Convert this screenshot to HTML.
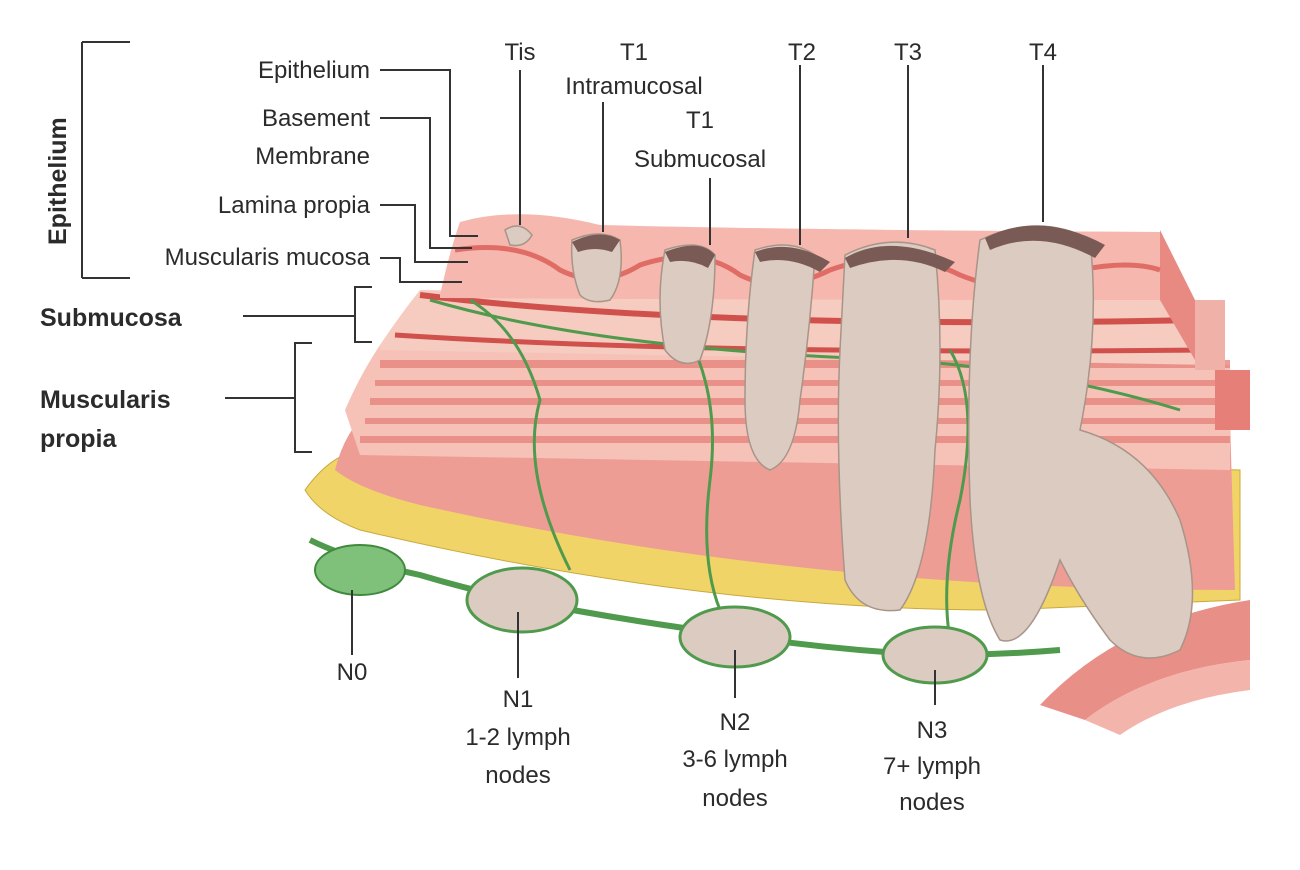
<!DOCTYPE html>
<html><head><meta charset="utf-8"><style>
html,body{margin:0;padding:0;background:#fff;}
svg{display:block}
text{font-family:"Liberation Sans",sans-serif;fill:#2b2b2b;}
</style></head><body>
<svg width="1300" height="870" viewBox="0 0 1300 870" xmlns="http://www.w3.org/2000/svg">
<rect width="1300" height="870" fill="#fff"/>
<!-- blood vessel bottom right -->
<path d="M1040 705 Q1120 620 1250 600 L1250 660 Q1150 670 1085 720 Z" fill="#e88f88"/>
<path d="M1085 720 Q1150 670 1250 660 L1250 690 Q1170 700 1120 735 Z" fill="#f3b4ac"/>
<!-- yellow fat -->
<path d="M305 490 Q330 455 360 450 L1240 470 L1240 600 L1000 610 Q700 610 360 530 Q320 515 305 490 Z" fill="#f0d468" stroke="#c9a93a" stroke-width="1"/>
<!-- outer muscle -->
<path d="M335 470 Q345 430 370 410 L1230 420 L1235 590 Q800 590 420 505 Q360 490 335 470 Z" fill="#ee9d95"/>
<!-- muscularis inner textured -->
<path d="M345 410 Q360 375 380 345 L1230 365 L1230 470 L360 455 Z" fill="#f6c2b8"/>
<g fill="#e6857e" opacity="0.8">
<rect x="380" y="360" width="850" height="8"/>
<rect x="375" y="380" width="855" height="6"/>
<rect x="370" y="398" width="860" height="7"/>
<rect x="365" y="418" width="865" height="6"/>
<rect x="360" y="436" width="870" height="7"/>
</g>
<!-- submucosa -->
<path d="M380 345 Q400 315 420 290 L1200 300 L1215 365 L380 350 Z" fill="#f6cbc0"/>
<path d="M420 295 Q700 330 1200 320" stroke="#d0504c" stroke-width="6" fill="none"/>
<path d="M395 335 Q700 355 1210 350" stroke="#d0504c" stroke-width="5" fill="none"/>
<!-- right block faces -->
<path d="M1160 230 L1195 300 L1195 360 L1160 300 Z" fill="#e88a82"/>
<path d="M1195 300 L1225 300 L1225 370 L1195 370 Z" fill="#f0b1a8"/>
<path d="M1215 370 L1250 370 L1250 430 L1215 430 Z" fill="#e57f78"/>
<!-- mucosa -->
<path d="M440 295 Q450 250 460 222 Q520 205 600 225 Q800 230 1160 232 L1160 300 Q800 300 440 298 Z" fill="#f5b7ae"/>
<path d="M455 250 Q520 240 560 270 Q600 290 640 265 Q700 245 740 275 Q780 295 830 270 Q900 245 960 275 Q1020 300 1080 270 Q1130 260 1160 270" stroke="#e06c66" stroke-width="5" fill="none"/>
<!-- green lymphatics -->
<g stroke="#4f9a4c" stroke-width="3" fill="none">
<path d="M470 300 Q520 330 540 400 Q520 470 570 570"/>
<path d="M690 340 Q720 400 710 480 Q700 560 720 610"/>
<path d="M950 350 Q980 400 960 500 Q940 580 950 640"/>
<path d="M430 300 Q600 350 900 360 Q1050 370 1180 410"/>
<path d="M310 540 Q350 560 420 575 Q470 590 520 600 Q620 620 735 635 Q830 650 935 655 Q1000 655 1060 650" stroke-width="6"/>
</g>
<!-- tumors -->
<g fill="#dccbc0" stroke="#a89488" stroke-width="1.5">
<path d="M505 230 Q520 220 532 235 Q525 248 510 245 Z"/>
<path d="M572 240 Q600 228 620 240 Q625 280 610 300 Q590 305 580 295 Q570 270 572 240 Z"/>
<path d="M665 250 Q700 238 715 255 Q715 320 700 360 Q680 370 665 350 Q655 300 665 250 Z"/>
<path d="M755 250 Q790 238 815 255 Q810 330 800 400 Q795 460 770 470 Q745 460 745 400 Q745 320 755 250 Z"/>
<path d="M845 255 Q890 232 935 250 Q945 350 935 450 Q930 570 900 610 Q860 615 845 580 Q835 450 840 350 Z"/>
<path d="M980 240 Q1040 212 1090 240 Q1100 330 1080 430 Q1150 450 1180 520 Q1205 600 1180 650 Q1140 670 1110 640 Q1080 600 1060 560 Q1030 650 1000 640 Q975 600 970 500 Q965 350 980 240 Z"/>
</g>
<g fill="#7a5a55">
<path d="M572 242 Q600 228 620 240 L612 252 Q595 246 578 252 Z"/>
<path d="M665 252 Q700 238 715 255 L708 268 Q690 258 670 262 Z"/>
<path d="M755 252 Q790 238 830 262 L820 272 Q790 255 760 262 Z"/>
<path d="M845 258 Q890 232 955 262 L945 272 Q900 250 850 268 Z"/>
<path d="M985 238 Q1040 210 1105 245 L1095 258 Q1040 228 990 250 Z"/>
</g>
<!-- lymph nodes -->
<ellipse cx="360" cy="570" rx="45" ry="25" fill="#7fc07a" stroke="#3f8a3c" stroke-width="2"/>
<ellipse cx="522" cy="600" rx="55" ry="32" fill="#dccbc0" stroke="#4f9a4c" stroke-width="3"/>
<ellipse cx="735" cy="637" rx="55" ry="30" fill="#dccbc0" stroke="#4f9a4c" stroke-width="3"/>
<ellipse cx="935" cy="655" rx="52" ry="28" fill="#dccbc0" stroke="#4f9a4c" stroke-width="3"/>
<!-- leader lines -->
<g stroke="#333" stroke-width="2" fill="none">
<path d="M82 42 L82 278 M82 42 L130 42 M82 278 L130 278"/>
<path d="M380 70 L450 70 L450 236 L478 236"/>
<path d="M380 118 L430 118 L430 248 L472 248"/>
<path d="M380 205 L415 205 L415 262 L468 262"/>
<path d="M380 258 L400 258 L400 282 L462 282"/>
<path d="M243 316 L355 316 M372 287 L355 287 L355 342 L372 342"/>
<path d="M225 398 L295 398 M312 343 L295 343 L295 452 L312 452"/>
<path d="M520 70 L520 225"/><path d="M603 102 L603 232"/><path d="M710 178 L710 245"/>
<path d="M800 65 L800 245"/><path d="M908 65 L908 238"/><path d="M1043 65 L1043 222"/>
<path d="M352 590 L352 655"/><path d="M518 612 L518 678"/><path d="M735 650 L735 698"/><path d="M935 670 L935 705"/>
</g>
<!-- labels -->
<g font-size="24">
<text x="370" y="78" text-anchor="end">Epithelium</text>
<text x="370" y="126" text-anchor="end">Basement</text>
<text x="370" y="164" text-anchor="end">Membrane</text>
<text x="370" y="213" text-anchor="end">Lamina propia</text>
<text x="370" y="265" text-anchor="end">Muscularis mucosa</text>
<text x="520" y="60" text-anchor="middle">Tis</text>
<text x="634" y="60" text-anchor="middle">T1</text>
<text x="634" y="94" text-anchor="middle">Intramucosal</text>
<text x="700" y="128" text-anchor="middle">T1</text>
<text x="700" y="167" text-anchor="middle">Submucosal</text>
<text x="802" y="60" text-anchor="middle">T2</text>
<text x="908" y="60" text-anchor="middle">T3</text>
<text x="1043" y="60" text-anchor="middle">T4</text>
<text x="352" y="680" text-anchor="middle">N0</text>
<text x="518" y="707" text-anchor="middle">N1</text>
<text x="518" y="745" text-anchor="middle">1-2 lymph</text>
<text x="518" y="783" text-anchor="middle">nodes</text>
<text x="735" y="730" text-anchor="middle">N2</text>
<text x="735" y="767" text-anchor="middle">3-6 lymph</text>
<text x="735" y="806" text-anchor="middle">nodes</text>
<text x="932" y="738" text-anchor="middle">N3</text>
<text x="932" y="774" text-anchor="middle">7+ lymph</text>
<text x="932" y="810" text-anchor="middle">nodes</text>
</g>
<g font-size="25" font-weight="bold">
<text x="40" y="326">Submucosa</text>
<text x="40" y="408">Muscularis</text>
<text x="40" y="447">propia</text>
<text transform="translate(66,245) rotate(-90)">Epithelium</text>
</g>
</svg>
</body></html>
